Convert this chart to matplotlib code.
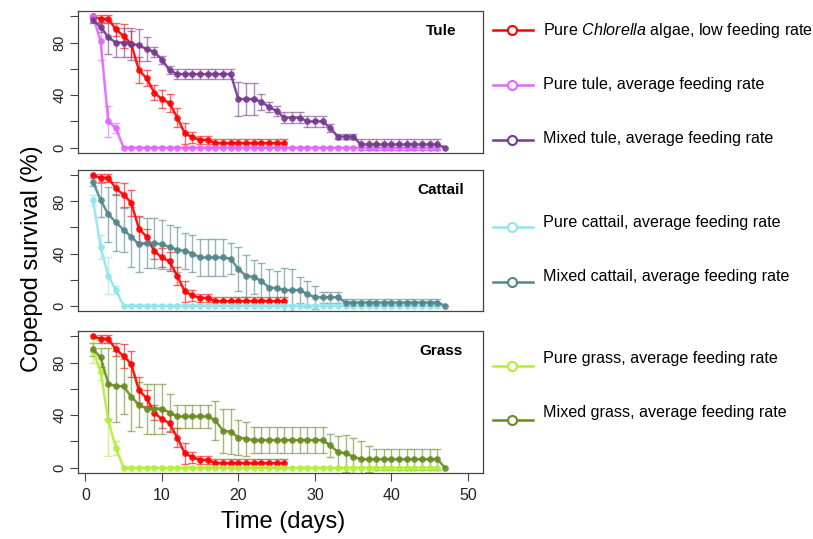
import numpy as np
import matplotlib
matplotlib.use("Agg")
import matplotlib.pyplot as plt
from matplotlib.colors import to_rgba

plt.rcParams['font.family'] = ['Liberation Sans', 'DejaVu Sans']
plt.rcParams['mathtext.fontset'] = 'custom'
plt.rcParams['mathtext.rm'] = 'Liberation Sans'
plt.rcParams['mathtext.it'] = 'Liberation Sans:italic'

# dias de cada serie
dias_alga = np.arange(1, 27)
dias_puro = np.arange(1, 47)
dias_mix = np.arange(1, 48)

# controle: Chlorella pura (o mesmo nos tres paineis)
alga = [100, 98, 98, 90, 85, 79, 59, 53, 42, 37, 34, 23, 11, 8, 6, 6,
        3.5, 3.5, 3.5, 3.5, 3.5, 3.5, 3.5, 3.5, 3.5, 3.5]
alga_err = [0, 3, 3, 5, 9, 10, 10, 6, 6, 7, 7, 7, 8, 4, 3, 3,
            3, 3, 3, 3, 3, 3, 3, 3, 3, 3]

# tule
tule_puro = [100, 81, 20, 15] + [0] * 42
tule_puro_err = [0, 14, 12, 4] + [0] * 42
tule_mix = [97, 92, 84, 80, 80, 79, 78, 75, 73, 67, 59,
            56, 56, 56, 56, 56, 56, 56, 56,
            37, 37, 37, 35, 31, 28, 23, 23, 23, 20, 20, 20, 15,
            8.5, 8.5, 8.5,
            2.5, 2.5, 2.5, 2.5, 2.5, 2.5, 2.5, 2.5, 2.5, 2.5, 2.5, 0]
tule_mix_err = [2, 4, 13, 11, 11, 12, 12, 9, 4, 3, 3,
                4, 4, 4, 4, 4, 4, 4, 4,
                13, 12, 12, 6, 4, 4, 4, 4, 4, 4, 4, 4, 3,
                2, 2, 2,
                4, 4, 4, 4, 4, 4, 4, 4, 4, 4, 4, 0]

# cattail
cattail_puro = [81, 45, 23, 12] + [0] * 42
cattail_puro_err = [4, 9, 14, 3] + [0] * 42
cattail_mix = [95, 81, 70, 64, 58, 53, 47, 48, 48, 47, 45, 43, 42, 40,
               37, 37, 37, 37, 36,
               28, 23, 22, 19, 14, 13.5, 12, 12, 12, 9,
               6.5, 6.5, 6.5, 6.5,
               2.5, 2.5, 2.5, 2.5, 2.5, 2.5, 2.5, 2.5, 2.5, 2.5, 2.5, 2.5, 2.5, 0]
cattail_mix_err = [3, 13, 21, 22, 17, 23, 21, 19, 19, 19, 17, 17, 14, 14,
                   14, 14, 14, 14, 12,
                   17, 16, 13, 14, 14, 13, 17, 16, 10, 10,
                   9, 4, 4, 4,
                   3, 3, 3, 3, 3, 3, 3, 3, 3, 3, 3, 3, 3, 0]

# grass
grass_puro = [89, 73, 36, 15] + [0] * 42
grass_puro_err = [9, 6, 27, 5] + [0] * 42
grass_mix = [90, 84, 64, 62, 62, 54, 48, 45, 45, 45, 42,
             39, 39, 39, 39, 39, 36, 28, 27.5, 23, 22,
             21, 21, 21, 21, 21, 21, 21, 21, 21, 21,
             17, 12, 11, 8.5,
             6.5, 6.5, 6.5, 6.5, 6.5, 6.5, 6.5, 6.5, 6.5, 6.5, 6.5, 0]
grass_mix_err = [5, 7, 27, 27, 21, 26, 17, 19, 19, 19, 14,
                 9, 9, 9, 9, 9, 15, 17, 17, 13, 13,
                 10, 10, 10, 10, 10, 10, 10, 10, 10, 10,
                 9, 12, 14, 14,
                 14, 10, 8, 8, 8, 8, 8, 8, 8, 8, 8, 0]

cor_alga = '#FF0000'
cores = {'tule': ('#E066FF', '#763A8F'),
         'cattail': ('#8EE5EE', '#53868B'),
         'grass': ('#B3EE3A', '#698B22')}


def serie(ax, x, y, e, cor):
    x = np.asarray(x)
    y = np.asarray(y, dtype=float)
    e = np.asarray(e, dtype=float)
    m = e > 0
    ax.errorbar(x[m], y[m], yerr=e[m], fmt='none', ecolor=to_rgba(cor, 0.6),
                elinewidth=1, capsize=3.2, capthick=1, zorder=2)
    ax.plot(x, y, '-o', color=cor, lw=1.8, ms=4.8, mew=0, alpha=0.9, zorder=3)


fig = plt.figure(figsize=(8.13, 5.39), dpi=100)

# paineis: [esq, baixo, larg, alt] em fracao da figura
posicoes = [[0.0959, 0.7161, 0.4982, 0.2635],
            [0.0959, 0.4230, 0.4982, 0.2616],
            [0.0959, 0.1224, 0.4982, 0.2635]]
paineis = [('tule', 'Tule', tule_puro, tule_puro_err, tule_mix, tule_mix_err),
           ('cattail', 'Cattail', cattail_puro, cattail_puro_err, cattail_mix, cattail_mix_err),
           ('grass', 'Grass', grass_puro, grass_puro_err, grass_mix, grass_mix_err)]

for i, (chave, titulo, puro, puro_e, mix, mix_e) in enumerate(paineis):
    ax = fig.add_axes(posicoes[i])
    c_puro, c_mix = cores[chave]
    serie(ax, dias_alga, alga, alga_err, cor_alga)
    serie(ax, dias_puro, puro, puro_e, c_puro)
    serie(ax, dias_mix, mix, mix_e, c_mix)

    ax.set_xlim(-0.96, 51.96)
    ax.set_ylim(-4, 104)
    ax.set_yticks([0, 20, 40, 60, 80, 100])
    ax.set_yticklabels(['0', '', '40', '', '80', ''], rotation=90, va='center')
    ax.tick_params(axis='y', direction='out', length=5.5, width=0.8,
                   color='#444444', labelsize=10.5, pad=3, labelcolor='#222222')
    for s in ax.spines.values():
        s.set_color('#444444')
        s.set_linewidth(0.9)
    ax.text(0.896, 89, titulo, transform=ax.get_yaxis_transform(),
            ha='center', va='center', fontsize=11, fontweight='bold')
    if i < 2:
        ax.tick_params(axis='x', bottom=False, labelbottom=False)
    else:
        ax.set_xticks([0, 10, 20, 30, 40, 50])
        ax.tick_params(axis='x', direction='out', length=5.5, width=0.8,
                       color='#444444', labelsize=11.5, pad=5, labelcolor='#222222')

fig.text(0.039, 0.52, 'Copepod survival (%)', rotation=90, fontsize=17,
         ha='center', va='center')
fig.text(0.348, 0.031, 'Time (days)', fontsize=17, ha='center', va='center')

# legenda manual a direita, em pixels
lax = fig.add_axes([0, 0, 1, 1])
lax.set_xlim(0, 813)
lax.set_ylim(539, 0)
lax.axis('off')
lax.patch.set_visible(False)

leg_textos = ['Pure $\\mathit{Chlorella}$ algae, low feeding rate',
              'Pure tule, average feeding rate',
              'Mixed tule, average feeding rate',
              'Pure cattail, average feeding rate',
              'Mixed cattail, average feeding rate',
              'Pure grass, average feeding rate',
              'Mixed grass, average feeding rate']
leg_cores = [cor_alga, cores['tule'][0], cores['tule'][1], cores['cattail'][0],
             cores['cattail'][1], cores['grass'][0], cores['grass'][1]]
y_linha = [30, 85, 140, 227, 282, 366, 420]
y_texto = [30, 85, 139, 222, 277, 358, 413]

for t, c, yl, yt in zip(leg_textos, leg_cores, y_linha, y_texto):
    lax.plot([493, 533], [yl, yl], color=c, lw=1.8)
    lax.plot([512], [yl], 'o', mfc='white', mec=c, ms=6.5, mew=1.5)
    lax.text(543, yt, t, va='center', ha='left', fontsize=11.6)

fig.savefig('out.png', dpi=100)
